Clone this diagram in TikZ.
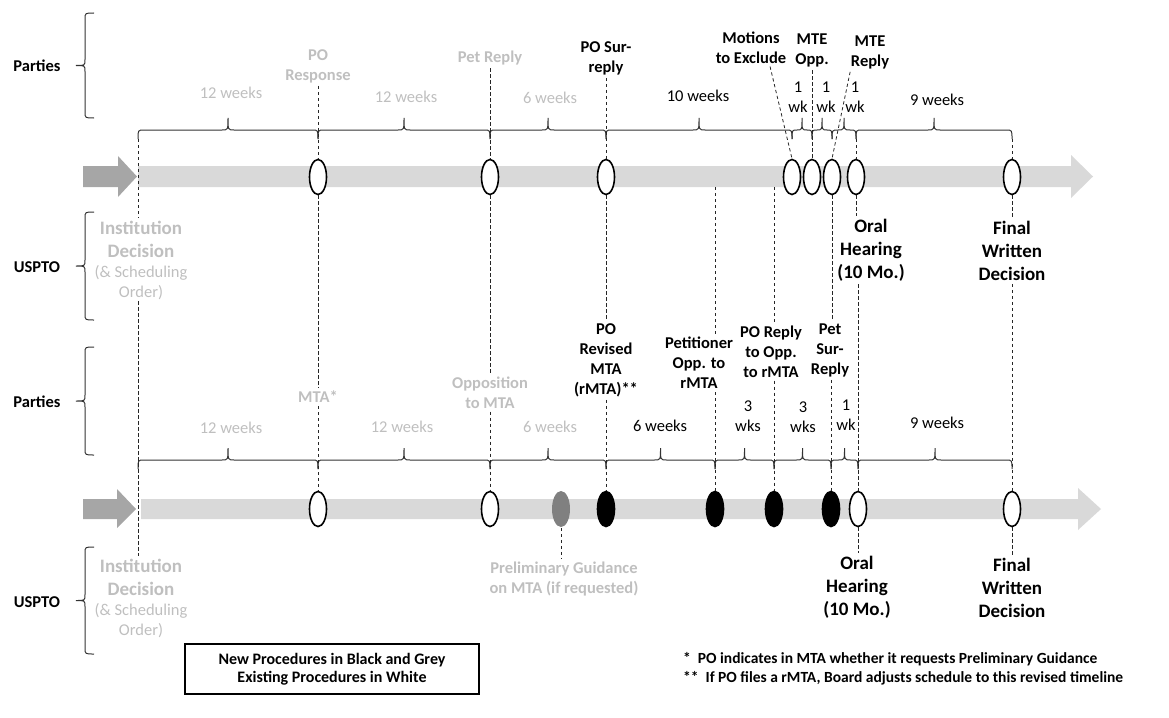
\documentclass[tikz,border=0pt]{standalone}
\usepackage{fontspec}
\setmainfont{Carlito}
\usepackage{tikz}
\usetikzlibrary{shapes.geometric,positioning,calc}
\definecolor{mylightgrey}{RGB}{217,217,217}
\definecolor{mydarkgrey}{RGB}{166,166,166}
\definecolor{mytextgrey}{RGB}{191,191,191}
\definecolor{myguidegrey}{RGB}{128,128,128}

% horizontal brace, tip up: x start, x end, y of the ends
\newcommand{\tlbrace}[3]{%
  \pgfmathsetmacro{\bmid}{(#1+#2)/2}
  \pgfmathsetmacro{\brad}{min(6,(#2-#1)/4)}
  \draw[bracestyle] (#1,#3) .. controls (#1,#3-9) .. (#1+\brad,#3-9)
    -- (\bmid-\brad,#3-9) .. controls (\bmid,#3-9) .. (\bmid,#3-21)
    .. controls (\bmid,#3-9) .. (\bmid+\brad,#3-9)
    -- (#2-\brad,#3-9) .. controls (#2,#3-9) .. (#2,#3);
}
% vertical brace, tip left: x of the ends, y top, y bottom
\newcommand{\sidebrace}[3]{%
  \pgfmathsetmacro{\bmid}{(#2+#3)/2}
  \draw[bracestyle] (#1,#2) .. controls (#1-9,#2) .. (#1-9,#2+6)
    -- (#1-9,\bmid-6) .. controls (#1-9,\bmid) .. (#1-18,\bmid)
    .. controls (#1-9,\bmid) .. (#1-9,\bmid+6)
    -- (#1-9,#3-6) .. controls (#1-9,#3) .. (#1,#3);
}

\begin{document}
\begin{tikzpicture}[
  x=1pt,
  y=-1pt,
  evt/.style={
    ellipse,
    draw,
    line width=1.6pt,
    fill=white,
    minimum width=17pt,
    minimum height=35pt,
    inner sep=0pt
    },
  evtnew/.style={evt, fill=black},
  evtguide/.style={evt, draw=none, fill=myguidegrey, minimum width=18pt, minimum height=36pt},
  guide/.style={draw=black!85, line width=0.8pt, dash pattern=on 3.3pt off 2.7pt},
  bracestyle/.style={draw=black!80, line width=1pt},
  lab/.style={font=\fontsize{16.5}{20}\selectfont\bfseries, align=center, inner sep=3pt},
  oldlab/.style={lab, text=mytextgrey},
  biglab/.style={font=\fontsize{19}{23}\selectfont\bfseries, align=center, inner sep=3pt},
  dur/.style={font=\fontsize{16.5}{20}\selectfont, align=center, inner sep=1pt},
  olddur/.style={dur, text=mytextgrey},
  sidelab/.style={font=\fontsize{16.5}{20}\selectfont\bfseries}
]
\useasboundingbox (0,0) rectangle (1169,717);

% timelines
\fill[mydarkgrey] (83,166) -- (118,166) -- (118,156) -- (137,176.5) -- (118,197) -- (118,187) -- (83,187) -- cycle;
\fill[mylightgrey] (138,166) -- (1071,166) -- (1071,155) -- (1093,176.5) -- (1071,198) -- (1071,187) -- (138,187) -- cycle;
\fill[mydarkgrey] (83,499) -- (117,499) -- (117,489) -- (136,509) -- (117,528) -- (117,519) -- (83,519) -- cycle;
\fill[mylightgrey] (141,499) -- (1078,499) -- (1078,488) -- (1101,509) -- (1078,530) -- (1078,519) -- (141,519) -- cycle;

% sides
\node[sidelab] (parties1) at (37,66) {Parties};
\node[sidelab] (uspto1) at (37,267) {USPTO};
\node[sidelab] (parties2) at (37,402) {Parties};
\node[sidelab] (uspto2) at (37,602) {USPTO};
\sidebrace{94}{13}{118}
\sidebrace{94}{212}{320}
\sidebrace{94}{347}{455}
\sidebrace{94}{547}{654}

% braces
\foreach \xa/\xb in {138/318, 318/490, 490/606, 606/792, 792/812, 812/832, 832/856, 856/1012}
  {\tlbrace{\xa}{\xb}{139}}
\foreach \xa/\xb in {138/318, 318/490, 490/606, 606/715, 715/774, 774/831, 831/858, 858/1012}
  {\tlbrace{\xa}{\xb}{469}}

% events
\foreach \x [count=\i from 1] in {318, 490, 606, 792, 812, 832, 856, 1012}
  \node[evt] (te\i) at (\x,177) {};
\node[evt] (be1) at (318,509) {};
\node[evt] (be2) at (490,509) {};
\node[evtguide] (beg) at (561,509) {};
\node[evtnew] (be3) at (606,509) {};
\node[evtnew] (be4) at (715,509) {};
\node[evtnew] (be5) at (774,509) {};
\node[evtnew] (be6) at (831,509) {};
\node[evt] (be7) at (858,509) {};
\node[evt] (be8) at (1012,509) {};

% top labels
\node[oldlab] (poresp) at (318,66) {PO\\Response};
\node[oldlab] (petreply) at (490,58) {Pet Reply};
\node[lab] (posur) at (606,58) {PO Sur-\\reply};
\node[lab] (motions) at (751,47.5) {Motions\\to Exclude};
\node[lab] (mteopp) at (812,50.5) {MTE\\Opp.};
\node[lab] (mtereply) at (870,52) {MTE\\Reply};

\node[olddur] (d1) at (231,93) {12 weeks};
\node[olddur] (d2) at (406,97) {12 weeks};
\node[olddur] (d3) at (550,98) {6 weeks};
\node[dur] (d4) at (698,96) {10 weeks};
\node[dur] (d5) at (798,97) {1\\wk};
\node[dur] (d6) at (826,97) {1\\wk};
\node[dur] (d7) at (855,97) {1\\wk};
\node[dur] (d8) at (937,100) {9 weeks};

\node[biglab, text=mytextgrey] (instA) at (141,239.5) {Institution\\Decision};
\node[dur, text=mytextgrey] (instB) at (141,283) {(\& Scheduling\\Order)};
\node[biglab] (oral1) at (871,250) {Oral\\Hearing\\(10 Mo.)};
\node[biglab] (final1) at (1012,251) {Final\\Written\\Decision};

% bottom labels
\node[oldlab] (mta) at (318,397) {MTA*};
\node[oldlab] (oppmta) at (490,392.5) {Opposition\\to MTA};
\node[lab] (porev) at (606,360) {PO\\Revised\\MTA\\(rMTA)**};
\node[lab] (petopp) at (699,363) {Petitioner\\Opp. to\\rMTA};
\node[lab] (poreply) at (771,351.5) {PO Reply\\to Opp.\\to rMTA};
\node[lab] (petsur) at (830,350) {Pet\\Sur-\\Reply};

\node[olddur] (d9) at (231,428) {12 weeks};
\node[olddur] (d10) at (402,427) {12 weeks};
\node[olddur] (d11) at (550,427) {6 weeks};
\node[dur] (d12) at (660,426) {6 weeks};
\node[dur] (d13) at (748,416.5) {3\\wks};
\node[dur] (d14) at (803,417.5) {3\\wks};
\node[dur] (d15) at (846,415) {1\\wk};
\node[dur] (d16) at (937,423) {9 weeks};

\node[oldlab] (prelim) at (564,579) {Preliminary Guidance\\on MTA (if requested)};
\node[biglab, text=mytextgrey] (instC) at (141,577) {Institution\\Decision};
\node[dur, text=mytextgrey] (instD) at (141,620.5) {(\& Scheduling\\Order)};
\node[biglab] (oral2) at (857,587.5) {Oral\\Hearing\\(10 Mo.)};
\node[biglab] (final2) at (1012,587.5) {Final\\Written\\Decision};

\node[draw, line width=1.2pt, font=\fontsize{16}{18.5}\selectfont\bfseries, align=center,
  minimum width=294pt, minimum height=50pt] (legend) at (332,669)
  {New Procedures in Black and Grey\\Existing Procedures in White};
\node[font=\fontsize{15.5}{18.5}\selectfont\bfseries, align=left, anchor=west, inner sep=0pt]
  (notes) at (683,669)
  {*~~PO indicates in MTA whether it requests Preliminary Guidance\\**~~If PO files a rMTA, Board adjusts schedule to this revised timeline};

% guide lines
\coordinate (t0) at (138,139);
\coordinate (t7) at (856,139);
\coordinate (t8) at (1012,139);
\coordinate (s4) at (715,187);
\coordinate (s5) at (774,187);

\draw[guide] (t0) -- (t0 |- instA.north) (t0 |- instB.south) -- (t0 |- instC.north);
\draw[guide] (poresp) -- (te1) -- (mta) -- (be1);
\draw[guide] (petreply) -- (te2) -- (oppmta) -- (be2);
\draw[guide] (posur) -- (te3) -- (porev) -- (be3);
\draw[guide] (s4) -- (s4 |- petopp.north) (be4.north |- petopp.south) -- (be4);
\draw[guide] (s5) -- (s5 |- poreply.north) (be5.north |- poreply.south) -- (be5);
\draw[guide] (motions.-45) -- (te4.north);
\draw[guide] (mteopp) -- (te5);
\draw[guide] (mtereply.-135) -- (te6.north);
\draw[guide] (te6) -- (te6.south |- petsur.north) (be6.north |- petsur.south) -- (be6);
\draw[guide] (t7) -- (te7) -- (te7.south |- oral1.north) (be7.north |- oral1.south) -- (be7) -- (be7.south |- oral2.north);
\draw[guide] (t8) -- (te8) -- (final1) -- (be8) -- (final2);
\draw[guide] (beg) -- (beg.south |- prelim.north);

\end{tikzpicture}
\end{document}
